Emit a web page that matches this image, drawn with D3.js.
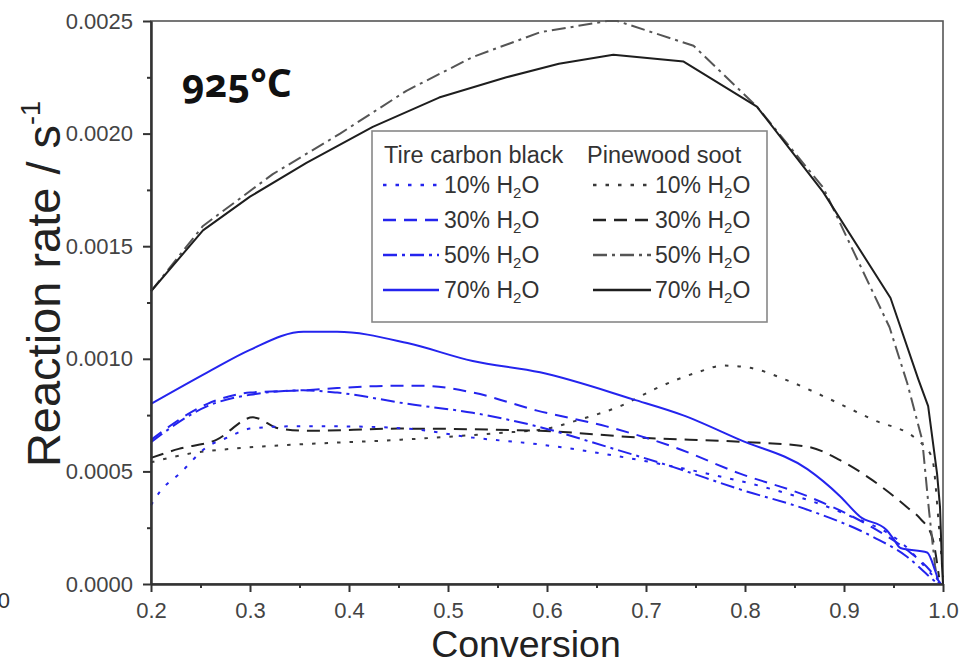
<!DOCTYPE html>
<html>
<head>
<meta charset="utf-8">
<script src="https://cdn.jsdelivr.net/npm/d3@7"></script>
<style>
  html, body { margin: 0; padding: 0; background: #fff; }
  svg { display: block; font-family: "Liberation Sans", Arial, sans-serif; }
</style>
</head>
<body>
<svg id="chart" width="963" height="663"></svg>
<script>
// Reaction rate (1/s) versus conversion, steam gasification at 925 °C.
// Each series is a list of [conversion, rate] pairs.
const tire10 = [[0.2,0.00035],[0.209,0.00041],[0.229,0.00049],[0.257,0.00061],[0.277,0.00065],[0.3,0.00069],[0.34,0.00070],[0.39,0.00070],[0.459,0.00069],[0.525,0.00065],[0.592,0.00062],[0.694,0.00055],[0.762,0.00049],[0.828,0.00042],[0.896,0.00032],[0.964,0.00016],[0.987,0.00005],[0.997,0.0]];
const tire30 = [[0.2,0.00064],[0.257,0.00080],[0.3,0.00085],[0.354,0.00086],[0.388,0.00087],[0.441,0.00088],[0.475,0.00088],[0.525,0.00085],[0.59,0.00077],[0.66,0.00070],[0.727,0.00061],[0.795,0.00049],[0.863,0.00039],[0.929,0.00025],[0.964,0.00015],[0.987,0.00006],[0.998,0.0]];
const tire50 = [[0.2,0.00063],[0.257,0.00079],[0.3,0.00084],[0.354,0.00086],[0.388,0.00085],[0.459,0.00080],[0.525,0.00076],[0.59,0.00070],[0.66,0.00061],[0.727,0.00052],[0.795,0.00042],[0.863,0.00033],[0.929,0.00021],[0.964,0.00012],[0.987,0.00003],[0.995,0.0]];
const tire70 = [[0.2,0.00080],[0.257,0.00094],[0.3,0.00104],[0.354,0.00112],[0.388,0.00112],[0.459,0.00107],[0.525,0.00099],[0.593,0.00094],[0.687,0.00082],[0.737,0.00075],[0.795,0.00064],[0.863,0.00051],[0.896,0.00039],[0.916,0.00030],[0.943,0.00024],[0.95,0.00020],[0.957,0.00016],[0.984,0.00014],[0.992,0.00006],[0.995,0.00002]];

const pine10 = [[0.2,0.00054],[0.24,0.00058],[0.28,0.00060],[0.35,0.00062],[0.45,0.00064],[0.55,0.00067],[0.6,0.00069],[0.633,0.00073],[0.674,0.00079],[0.711,0.00087],[0.752,0.00094],[0.778,0.00097],[0.805,0.00096],[0.845,0.00090],[0.886,0.00082],[0.929,0.00073],[0.974,0.00064],[0.989,0.00056],[0.996,0.00025],[1.0,0.00003]];
const pine30 = [[0.2,0.00056],[0.228,0.00060],[0.266,0.00064],[0.303,0.00074],[0.33,0.00069],[0.36,0.00068],[0.45,0.00069],[0.593,0.00068],[0.694,0.00065],[0.802,0.00063],[0.863,0.00061],[0.896,0.00055],[0.929,0.00046],[0.964,0.00034],[0.977,0.00029],[0.989,0.00021],[0.996,0.00003]];
const pine50 = [[0.2,0.00130],[0.2525,0.00159],[0.323,0.00182],[0.391,0.00200],[0.458,0.00219],[0.525,0.00234],[0.593,0.00245],[0.661,0.00250],[0.671,0.00250],[0.748,0.00239],[0.812,0.00212],[0.879,0.00176],[0.946,0.00114],[0.964,0.00089],[0.979,0.00064],[0.986,0.00032],[0.992,0.00008],[0.995,0.0]];
const pine70 = [[0.2,0.00130],[0.2525,0.00157],[0.30,0.00172],[0.357,0.00187],[0.424,0.00203],[0.491,0.00216],[0.559,0.00225],[0.612,0.00231],[0.667,0.00235],[0.738,0.00232],[0.812,0.00212],[0.879,0.00174],[0.947,0.00127],[0.975,0.00091],[0.985,0.00079],[0.994,0.00049],[0.997,0.00034],[0.999,0.00008],[1.0,0.0]];

const xTicks = [0.2, 0.3, 0.4, 0.5, 0.6, 0.7, 0.8, 0.9, 1.0];
const xMinorTicks = [0.25, 0.35, 0.45, 0.55, 0.65, 0.75, 0.85, 0.95];
const yTicks = [0.0000, 0.0005, 0.0010, 0.0015, 0.0020, 0.0025];
const yMinorTicks = [0.00025, 0.00075, 0.00125, 0.00175, 0.00225];

const materials = ["Tire carbon black", "Pinewood soot"];
const steamLevels = ["10%", "30%", "50%", "70%"];
const temperatureLabel = "925°C";
const xTitle = "Conversion";

// ---- layout -------------------------------------------------------------
const svg = d3.select("#chart");
const plot = { left: 151, right: 943, top: 21, bottom: 584 };

const x = d3.scaleLinear().domain([0.2, 1.0]).range([plot.left, plot.right]);
const y = d3.scaleLinear().domain([0, 0.0025]).range([plot.bottom, plot.top]);

const BLUE = "#2424ee";
const DOT = "3.5,9", DASH = "13,8", DASHDOT = "14,5,3,5";

const series = [
  { data: pine10, color: "#3a3a3a", dash: DOT,     curve: d3.curveMonotoneX },
  { data: pine30, color: "#222",    dash: DASH,    curve: d3.curveMonotoneX },
  { data: pine50, color: "#555",    dash: DASHDOT, curve: d3.curveLinear },
  { data: pine70, color: "#1e1e1e", dash: null,    curve: d3.curveLinear },
  { data: tire10, color: BLUE, dash: DOT,     curve: d3.curveMonotoneX },
  { data: tire30, color: BLUE, dash: DASH,    curve: d3.curveMonotoneX },
  { data: tire50, color: BLUE, dash: DASHDOT, curve: d3.curveMonotoneX },
  { data: tire70, color: BLUE, dash: null,    curve: d3.curveMonotoneX }
];

// frame on top and right
svg.append("rect")
  .attr("x", plot.left).attr("y", plot.top)
  .attr("width", plot.right - plot.left).attr("height", plot.bottom - plot.top)
  .attr("fill", "none").attr("stroke", "#555").attr("stroke-width", 1.6);

// curves
svg.append("g").selectAll("path")
  .data(series)
  .join("path")
  .attr("d", s => d3.line().x(d => x(d[0])).y(d => y(d[1])).curve(s.curve)(s.data))
  .attr("fill", "none")
  .attr("stroke", s => s.color)
  .attr("stroke-width", 2)
  .attr("stroke-dasharray", s => s.dash)
  .attr("stroke-linejoin", "round");

// axes
function styleAxis(g) {
  g.select(".domain").attr("stroke", "#333").attr("stroke-width", 2);
  g.selectAll(".tick line").attr("stroke", "#333").attr("stroke-width", 2);
  g.selectAll(".tick text").attr("fill", "#444").attr("font-size", 22)
    .attr("font-family", "'Liberation Sans', Arial, sans-serif");
}

svg.append("g")
  .attr("transform", `translate(0,${plot.bottom})`)
  .call(d3.axisBottom(x).tickValues(xMinorTicks).tickSize(4).tickFormat("").tickSizeOuter(0))
  .call(styleAxis);
svg.append("g")
  .attr("transform", `translate(0,${plot.bottom})`)
  .call(d3.axisBottom(x).tickValues(xTicks).tickSize(8).tickPadding(10)
        .tickFormat(d3.format(".1f")).tickSizeOuter(0))
  .call(styleAxis);

svg.append("g")
  .attr("transform", `translate(${plot.left},0)`)
  .call(d3.axisLeft(y).tickValues(yMinorTicks).tickSize(4).tickFormat("").tickSizeOuter(0))
  .call(styleAxis);
svg.append("g")
  .attr("transform", `translate(${plot.left},0)`)
  .call(d3.axisLeft(y).tickValues(yTicks).tickSize(8).tickPadding(10)
        .tickFormat(d3.format(".4f")).tickSizeOuter(0))
  .call(styleAxis);

// axis titles
svg.append("text")
  .attr("x", 526).attr("y", 656.5)
  .attr("text-anchor", "middle")
  .attr("font-size", 37.5).attr("fill", "#222")
  .text(xTitle);

const yTitle = svg.append("text")
  .attr("transform", "translate(60,284) rotate(-90)")
  .attr("text-anchor", "middle")
  .attr("font-size", 47).attr("fill", "#222");
yTitle.append("tspan").text("Reaction rate / s");
yTitle.append("tspan").attr("font-size", 27).attr("dy", -20).text("-1");

// temperature tag
svg.append("text")
  .attr("x", 182).attr("y", 97)
  .attr("font-family", "'Noto Sans', 'Open Sans', sans-serif")
  .attr("font-weight", "bold")
  .attr("font-size", 39)
  .style("font-variant-numeric", "oldstyle-nums")
  .attr("fill", "#111")
  .text(temperatureLabel);

// stray axis digit at the left edge
svg.append("text")
  .attr("x", 10).attr("y", 608)
  .attr("text-anchor", "end")
  .attr("font-size", 22).attr("fill", "#333")
  .text("0");

// legend
const legend = svg.append("g");
legend.append("rect")
  .attr("x", 372).attr("y", 131).attr("width", 395).attr("height", 191)
  .attr("fill", "#fff").attr("stroke", "#888").attr("stroke-width", 1.6);

const columns = [
  { title: materials[0], titleX: 384, lineX0: 383, lineX1: 439, textX: 444, items: series.slice(4) },
  { title: materials[1], titleX: 587, lineX0: 593, lineX1: 651, textX: 655, items: series.slice(0, 4) }
];
const rowBase = [193, 228, 263, 298];

columns.forEach(col => {
  legend.append("text")
    .attr("x", col.titleX).attr("y", 163)
    .attr("font-size", 23.5).attr("fill", "#333")
    .text(col.title);
  col.items.forEach((s, i) => {
    legend.append("line")
      .attr("x1", col.lineX0).attr("x2", col.lineX1)
      .attr("y1", rowBase[i] - 8).attr("y2", rowBase[i] - 8)
      .attr("stroke", s.color).attr("stroke-width", 2.4)
      .attr("stroke-dasharray", s.dash);
    const t = legend.append("text")
      .attr("x", col.textX).attr("y", rowBase[i])
      .attr("font-size", 23).attr("fill", "#333");
    t.append("tspan").text(steamLevels[i] + " H");
    t.append("tspan").attr("font-size", 15).attr("dy", 5).text("2");
    t.append("tspan").attr("dy", -5).text("O");
  });
});
</script>
</body>
</html>
